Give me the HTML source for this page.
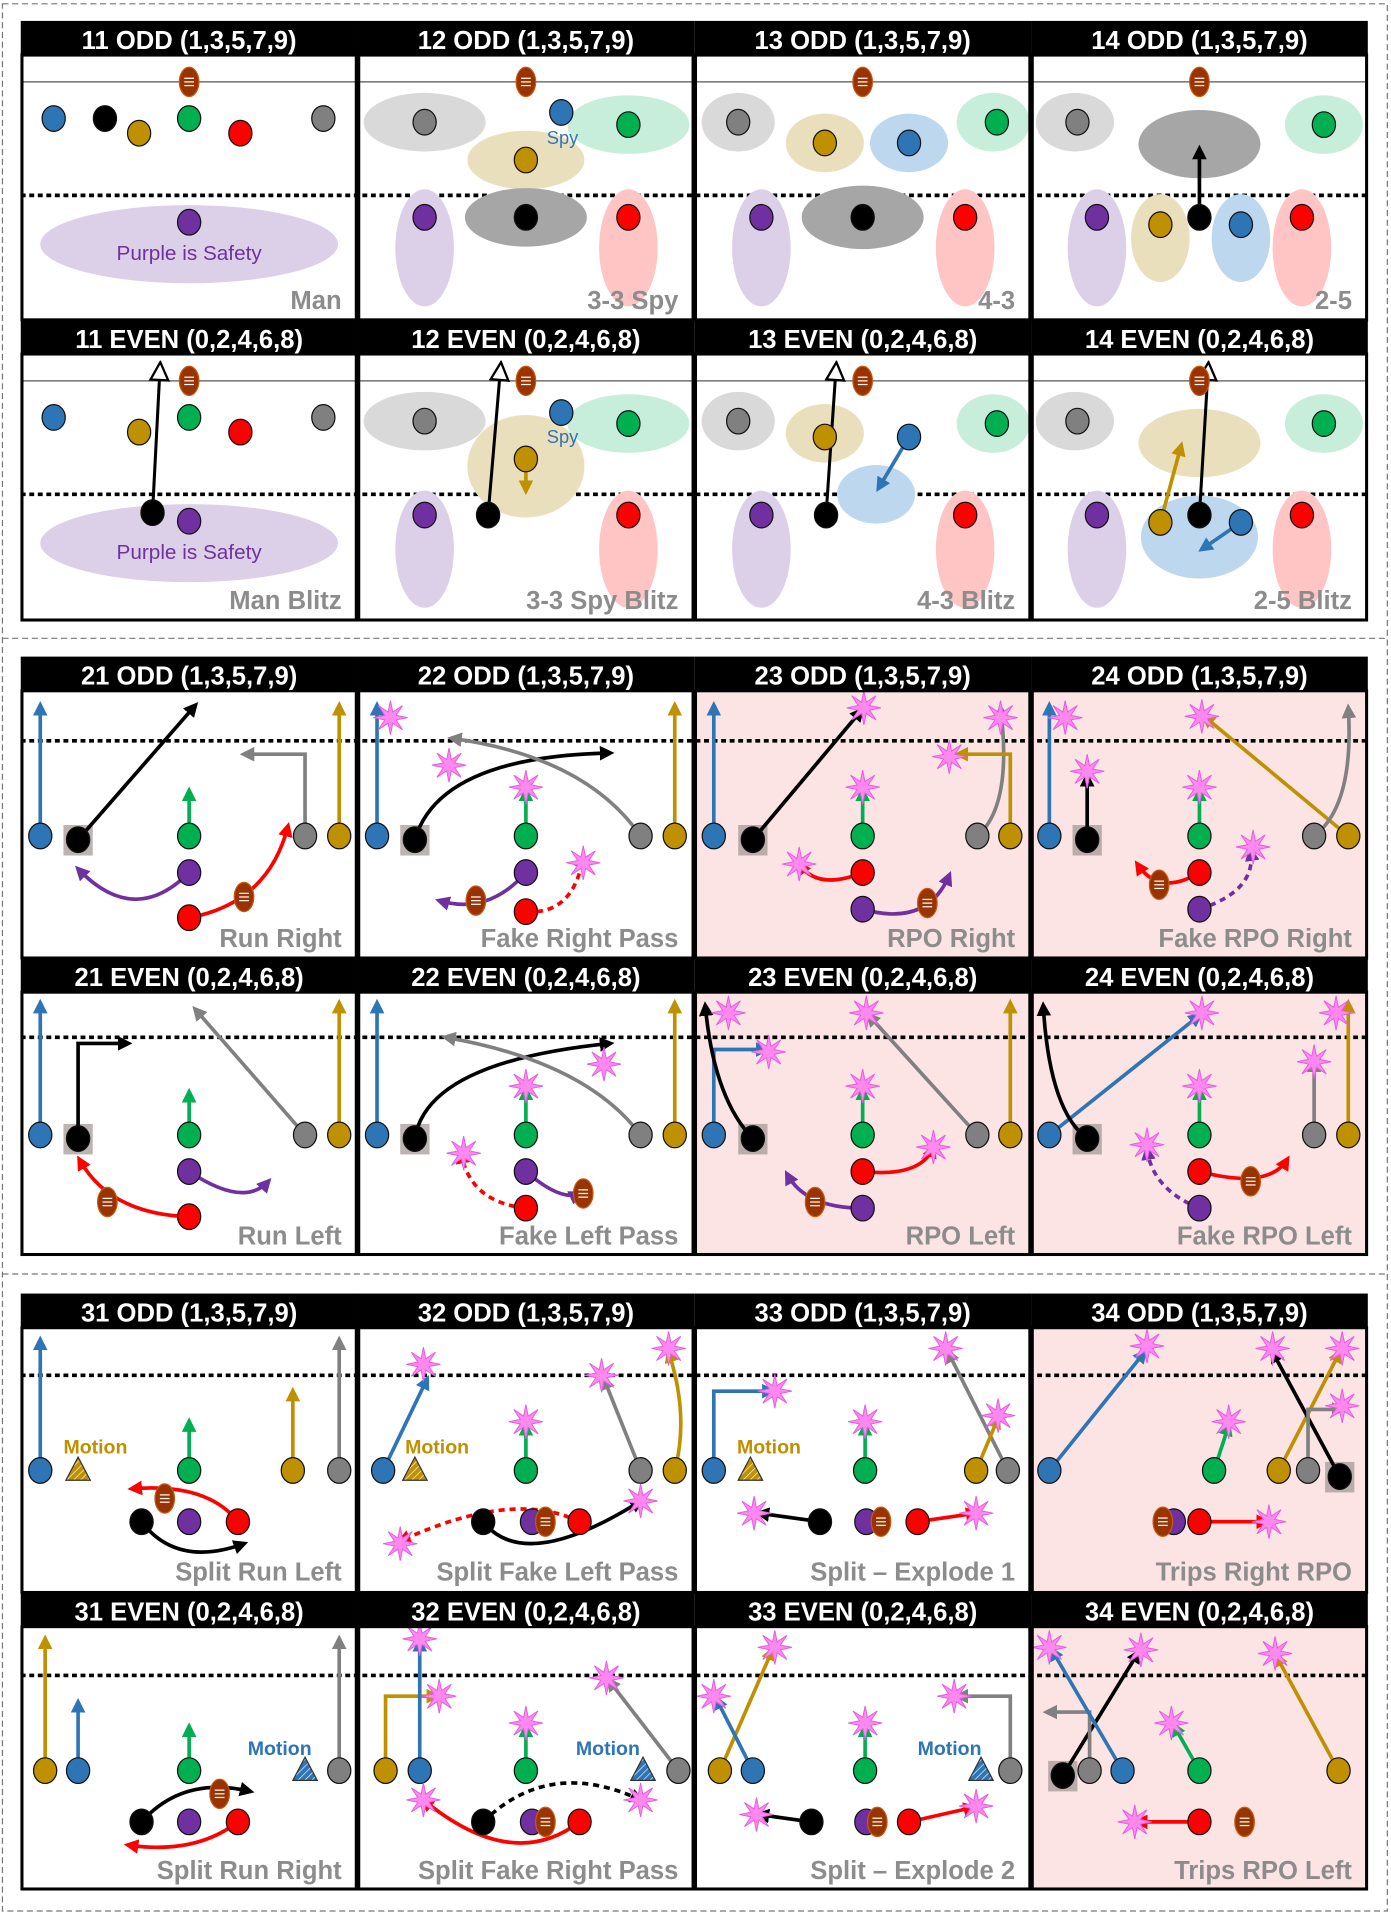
<!DOCTYPE html>
<html><head><meta charset="utf-8"><style>
html,body{margin:0;padding:0;background:#fff;width:1391px;height:1916px;overflow:hidden}
svg{display:block}
.h{font-family:"Liberation Sans",sans-serif;font-weight:bold;font-size:21px;fill:#fff;text-anchor:middle}
.l{font-family:"Liberation Sans",sans-serif;font-weight:bold;font-size:21px;fill:#8c8c8c;text-anchor:end}
.m{font-family:"Liberation Sans",sans-serif;font-weight:bold;font-size:16px}
</style></head><body>
<svg id="s" width="1391" height="1916" viewBox="0 0 1140 1570" xmlns="http://www.w3.org/2000/svg">
<defs>
<pattern id="hat" width="4" height="4" patternUnits="userSpaceOnUse" patternTransform="rotate(45)"><rect width="4" height="4" fill="#bf9000"/><line x1="0" y1="0" x2="0" y2="4" stroke="#fff" stroke-width="1"/></pattern>
<pattern id="hatb" width="4" height="4" patternUnits="userSpaceOnUse" patternTransform="rotate(45)"><rect width="4" height="4" fill="#2e75b6"/><line x1="0" y1="0" x2="0" y2="4" stroke="#fff" stroke-width="1"/></pattern>
</defs>
<rect x="2" y="3" width="1135" height="1563" fill="none" stroke="#777" stroke-dasharray="5,3"/>
<line x1="2" y1="523" x2="1137" y2="523" stroke="#777" stroke-dasharray="5,3"/>
<line x1="2" y1="1044" x2="1137" y2="1044" stroke="#777" stroke-dasharray="5,3"/>
<g id="bg"></g><g id="g"></g><g id="fr"></g>
<g>
<text class="h" x="155" y="40">11 ODD (1,3,5,7,9)</text>
<text class="h" x="431" y="40">12 ODD (1,3,5,7,9)</text>
<text class="h" x="707" y="40">13 ODD (1,3,5,7,9)</text>
<text class="h" x="983" y="40">14 ODD (1,3,5,7,9)</text>
<text class="h" x="155" y="285">11 EVEN (0,2,4,6,8)</text>
<text class="h" x="431" y="285">12 EVEN (0,2,4,6,8)</text>
<text class="h" x="707" y="285">13 EVEN (0,2,4,6,8)</text>
<text class="h" x="983" y="285">14 EVEN (0,2,4,6,8)</text>
<text class="h" x="155" y="561">21 ODD (1,3,5,7,9)</text>
<text class="h" x="431" y="561">22 ODD (1,3,5,7,9)</text>
<text class="h" x="707" y="561">23 ODD (1,3,5,7,9)</text>
<text class="h" x="983" y="561">24 ODD (1,3,5,7,9)</text>
<text class="h" x="155" y="808">21 EVEN (0,2,4,6,8)</text>
<text class="h" x="431" y="808">22 EVEN (0,2,4,6,8)</text>
<text class="h" x="707" y="808">23 EVEN (0,2,4,6,8)</text>
<text class="h" x="983" y="808">24 EVEN (0,2,4,6,8)</text>
<text class="h" x="155" y="1083">31 ODD (1,3,5,7,9)</text>
<text class="h" x="431" y="1083">32 ODD (1,3,5,7,9)</text>
<text class="h" x="707" y="1083">33 ODD (1,3,5,7,9)</text>
<text class="h" x="983" y="1083">34 ODD (1,3,5,7,9)</text>
<text class="h" x="155" y="1328">31 EVEN (0,2,4,6,8)</text>
<text class="h" x="431" y="1328">32 EVEN (0,2,4,6,8)</text>
<text class="h" x="707" y="1328">33 EVEN (0,2,4,6,8)</text>
<text class="h" x="983" y="1328">34 EVEN (0,2,4,6,8)</text>
<text class="l" x="280" y="253">Man</text>
<text class="l" x="556" y="253">3-3 Spy</text>
<text class="l" x="832" y="253">4-3</text>
<text class="l" x="1108" y="253">2-5</text>
<text class="l" x="280" y="499">Man Blitz</text>
<text class="l" x="556" y="499">3-3 Spy Blitz</text>
<text class="l" x="832" y="499">4-3 Blitz</text>
<text class="l" x="1108" y="499">2-5 Blitz</text>
<text class="l" x="280" y="776">Run Right</text>
<text class="l" x="556" y="776">Fake Right Pass</text>
<text class="l" x="832" y="776">RPO Right</text>
<text class="l" x="1108" y="776">Fake RPO Right</text>
<text class="l" x="280" y="1020">Run Left</text>
<text class="l" x="556" y="1020">Fake Left Pass</text>
<text class="l" x="832" y="1020">RPO Left</text>
<text class="l" x="1108" y="1020">Fake RPO Left</text>
<text class="l" x="280" y="1295">Split Run Left</text>
<text class="l" x="556" y="1295">Split Fake Left Pass</text>
<text class="l" x="832" y="1295">Split – Explode 1</text>
<text class="l" x="1108" y="1295">Trips Right RPO</text>
<text class="l" x="280" y="1540">Split Run Right</text>
<text class="l" x="556" y="1540">Split Fake Right Pass</text>
<text class="l" x="832" y="1540">Split – Explode 2</text>
<text class="l" x="1108" y="1540">Trips RPO Left</text>
<text class="m" x="155" y="213" text-anchor="middle" fill="#7030a0" style="font-weight:normal;font-size:17px">Purple is Safety</text>
<text class="m" x="155" y="458" text-anchor="middle" fill="#7030a0" style="font-weight:normal;font-size:17px">Purple is Safety</text>
<text class="m" x="461" y="118" text-anchor="middle" fill="#2e75b6" style="font-weight:normal;font-size:15px">Spy</text>
<text class="m" x="461" y="363" text-anchor="middle" fill="#2e75b6" style="font-weight:normal;font-size:15px">Spy</text>
<text class="m" x="52" y="1191" fill="#bf9000">Motion</text>
<text class="m" x="332" y="1191" fill="#bf9000">Motion</text>
<text class="m" x="604" y="1191" fill="#bf9000">Motion</text>
<text class="m" x="203" y="1438" fill="#2e75b6">Motion</text>
<text class="m" x="472" y="1438" fill="#2e75b6">Motion</text>
<text class="m" x="752" y="1438" fill="#2e75b6">Motion</text>
</g>
</svg>
<script>
var NS="http://www.w3.org/2000/svg",G=document.getElementById('g'),BG=document.getElementById('bg'),FR=document.getElementById('fr'),defs=document.querySelector('defs');
function E(p,t,a){var e=document.createElementNS(NS,t);for(var k in a)e.setAttribute(k,a[k]);p.appendChild(e);return e}
var C={b:'#2e75b6',k:'#000',y:'#bf9000',g:'#00b050',r:'#ff0000',a:'#808080',p:'#7030a0'};
var LE={a:'#d9d9d9',y:'#eadfbd',b:'#bdd7ee',g:'#c7eedb',p:'#dccfe8',r:'#ffc4c4',k:'#a6a6a6'};
for(var c in C){var m=E(defs,'marker',{id:'m'+c,viewBox:'0 0 10 10',refX:'7',refY:'5',markerWidth:'4',markerHeight:'4',orient:'auto',markerUnits:'strokeWidth'});E(m,'path',{d:'M0,0L10,5L0,10z',fill:C[c]});}
var mo=E(defs,'marker',{id:'mo',viewBox:'0 0 12 12',refX:'6',refY:'6',markerWidth:'7',markerHeight:'7',orient:'auto',markerUnits:'strokeWidth'});E(mo,'path',{d:'M1,1L11,6L1,11z',fill:'#fff',stroke:'#000','stroke-width':'1.3'});
var hy=[17,262,538,785,1060,1305],fb=[262,508,785,1028,1305,1548];
var pink={'2_2':1,'2_3':1,'3_2':1,'3_3':1,'5_3':1,'4_3':1};
for(var r=0;r<6;r++)for(var i=0;i<4;i++){var x=17+276*i;
 E(BG,'rect',{x:x,y:hy[r]+28,width:276,height:fb[r]-hy[r]-28,fill:pink[r+'_'+i]?'#fce4e4':'#fff'});
 E(FR,'rect',{x:x,y:hy[r],width:276,height:28,fill:'#000'});
 E(FR,'rect',{x:x+1,y:hy[r]+28,width:274,height:fb[r]-hy[r]-28,fill:'none',stroke:'#000','stroke-width':2.5});
}
[[67,160],[312,405],[0,607],[0,850],[0,1127],[0,1373]].forEach(function(v){
 if(v[0])E(BG,'line',{x1:17,x2:1121,y1:v[0],y2:v[0],stroke:'#555','stroke-width':1});
 E(BG,'line',{x1:17,x2:1121,y1:v[1],y2:v[1],stroke:'#000','stroke-width':3,'stroke-dasharray':'4,3'});});
function el(x,y,rx,ry,c){E(G,'ellipse',{cx:x,cy:y,rx:rx,ry:ry,fill:LE[c]})}
function d(x,y,c){E(G,'ellipse',{cx:x,cy:y,rx:9.5,ry:10.5,fill:C[c],stroke:'#111','stroke-width':1})}
function ball(x,y){E(G,'ellipse',{cx:x,cy:y,rx:8,ry:12,fill:'#993300',stroke:'#c55a11','stroke-width':1});for(var k=-3;k<=3;k+=3)E(G,'line',{x1:x-4,x2:x+4,y1:y+k,y2:y+k,stroke:'#fff','stroke-width':1})}
function a(p,c,ds,o){var at={d:p,fill:'none',stroke:C[c],'stroke-width':3,'marker-end':o?'url(#mo)':'url(#m'+c+')'};if(o)at['stroke-width']=2.5;if(ds)at['stroke-dasharray']='5,4';E(G,'path',at)}
function st(x,y){var p='';for(var k=0;k<16;k++){var R=k%2?5:14,t=k*Math.PI/8;p+=(k?'L':'M')+(x+R*Math.sin(t)).toFixed(1)+','+(y-R*Math.cos(t)).toFixed(1)}E(G,'path',{d:p+'z',fill:'#ff88ee',stroke:'#e35de0','stroke-width':.8})}
function sq(x,y){E(G,'rect',{x:x-12,y:y-12,width:24,height:25,fill:'#a59a9a',opacity:.75})}
function tri(x,y,f){E(G,'path',{d:'M'+x+','+(y-11)+'L'+(x+10)+','+(y+8)+'L'+(x-10)+','+(y+8)+'z',fill:f,stroke:'#333','stroke-width':1})}
ball(155,67);d(44,97,'b');d(86,97,'k');d(114,109,'y');d(155,97,'g');d(197,109,'r');d(265,97,'a');el(155,200,122,32,'p');d(155,182,'p');
el(348,100,50,24,'a');el(515,102,50,24,'g');el(431,131,48,24,'y');el(431,178,50,24,'k');el(348,203,24,48,'p');el(515,203,24,48,'r');
ball(431,67);d(348,100,'a');d(515,102,'g');d(460,92,'b');d(431,131,'y');d(431,178,'k');d(348,178,'p');d(515,178,'r');
el(605,100,30,24,'a');el(676,117,32,24,'y');el(745,117,32,24,'b');el(814,100,30,24,'g');el(707,178,50,26,'k');el(624,203,24,48,'p');el(791,203,24,48,'r');
ball(707,67);d(605,100,'a');d(676,117,'y');d(745,117,'b');d(817,100,'g');d(707,178,'k');d(624,178,'p');d(791,178,'r');
el(881,100,32,24,'a');el(1085,102,32,24,'g');el(983,118,50,28,'k');el(951,195,24,36,'y');el(1017,195,24,36,'b');el(899,203,24,48,'p');el(1067,203,24,48,'r');
ball(983,67);d(883,100,'a');d(1085,102,'g');a('M983,178L983,122','k');d(983,178,'k');d(951,184,'y');d(1017,184,'b');d(899,178,'p');d(1067,178,'r');
el(155,445,122,32,'p');a('M125,420L131,304','k',0,1);ball(155,312);d(44,342,'b');d(114,354,'y');d(155,342,'g');d(197,354,'r');d(265,342,'a');d(155,427,'p');d(125,420,'k');
el(348,345,50,24,'a');el(515,347,50,24,'g');el(431,382,48,42,'y');el(348,450,24,48,'p');el(515,450,24,48,'r');
a('M400,422L410,304','k',0,1);ball(431,312);d(348,345,'a');d(515,347,'g');d(460,338,'b');a('M431,376L431,402','y');d(431,376,'y');d(400,422,'k');d(348,422,'p');d(515,422,'r');
el(605,345,30,24,'a');el(676,355,32,24,'y');el(718,405,32,24,'b');el(814,347,30,24,'g');el(624,450,24,48,'p');el(791,450,24,48,'r');
a('M677,422L685,304','k',0,1);ball(707,312);d(605,345,'a');d(676,358,'y');a('M745,358L720,400','b');d(745,358,'b');d(817,347,'g');d(677,422,'k');d(624,422,'p');d(791,422,'r');
el(881,345,32,24,'a');el(1085,347,32,24,'g');el(983,363,50,28,'y');el(983,440,48,34,'b');el(899,450,24,48,'p');el(1067,450,24,48,'r');
a('M983,422L990,304','k',0,1);ball(983,312);d(883,345,'a');d(1085,347,'g');a('M951,428L968,365','y');a('M1017,428L985,450','b');d(983,422,'k');d(951,428,'y');d(1017,428,'b');d(899,422,'p');d(1067,422,'r');
a('M33,685L33,578','b');sq(64,688);a('M64,688L160,578','k');a('M155,685L155,648','g');a('M155,715Q110,760 64,712','p');a('M155,752Q220,740 236,677','r');a('M250,685L250,618L200,618','a');a('M278,685L278,578','y');
d(33,685,'b');d(64,688,'k');d(155,685,'g');d(155,715,'p');d(155,752,'r');d(250,685,'a');d(278,685,'y');ball(200,735);
a('M309,685L309,578','b');sq(340,688);a('M340,688Q360,620 500,617','k');a('M525,685Q480,620 370,605','a');a('M431,685L431,648','g');a('M553,685L553,578','y');a('M431,715Q400,750 360,738','p');a('M431,747Q470,750 478,702','r',1);
d(309,685,'b');d(340,688,'k');d(431,685,'g');d(525,685,'a');d(553,685,'y');d(431,715,'p');d(431,747,'r');ball(390,738);st(320,588);st(368,627);st(431,645);st(478,707);
a('M585,685L585,578','b');sq(617,688);a('M617,688L706,582','k');a('M707,685L707,648','g');a('M801,685Q830,660 820,580','a');a('M828,685L828,618L785,618','y');a('M707,715Q670,730 655,708','r');a('M707,745Q760,760 778,717','p');
d(585,685,'b');d(617,688,'k');d(707,685,'g');d(801,685,'a');d(828,685,'y');d(707,715,'r');d(707,745,'p');ball(760,740);st(708,580);st(707,645);st(820,588);st(778,620);st(655,708);
a('M860,685L860,578','b');sq(891,688);a('M891,688L891,636','k');a('M983,685L983,648','g');a('M1105,685L987,587','y');a('M1077,685Q1110,660 1105,580','a');a('M983,715Q950,735 932,708','r');a('M983,745Q1030,730 1025,697','p',1);
d(860,685,'b');d(891,688,'k');d(983,685,'g');d(1077,685,'a');d(1105,685,'y');d(983,715,'r');d(983,745,'p');ball(950,725);st(873,588);st(891,632);st(983,645);st(985,587);st(1027,694);
a('M33,930L33,822','b');sq(64,933);a('M64,933L64,855L105,855','k');a('M155,930L155,895','g');a('M250,930L160,827','a');a('M278,930L278,822','y');a('M155,960Q200,990 220,968','p');a('M155,997Q90,995 65,950','r');
d(33,930,'b');d(64,933,'k');d(155,930,'g');d(250,930,'a');d(278,930,'y');d(155,960,'p');d(155,997,'r');ball(88,985);
a('M309,930L309,822','b');sq(340,933);a('M340,933Q350,870 500,855','k');a('M525,930Q480,870 365,850','a');a('M431,930L431,893','g');a('M553,930L553,822','y');a('M431,990Q385,985 378,945','r',1);a('M431,960Q460,985 475,978','p');
d(309,930,'b');d(340,933,'k');d(431,930,'g');d(525,930,'a');d(553,930,'y');d(431,960,'p');d(431,990,'r');ball(478,978);st(495,872);st(431,890);st(380,945);
a('M585,930L585,860L628,860','b');sq(617,933);a('M617,933Q585,900 578,824','k');a('M801,930L712,832','a');a('M707,930L707,893','g');a('M828,930L828,822','y');a('M707,960Q755,965 765,940','r');a('M707,990Q660,990 645,962','p');
d(585,930,'b');d(617,933,'k');d(707,930,'g');d(801,930,'a');d(828,930,'y');d(707,960,'r');d(707,990,'p');ball(668,985);st(630,862);st(597,830);st(710,830);st(707,890);st(765,940);
a('M860,930L983,832','b');sq(891,933);a('M891,933Q860,910 855,824','k');a('M983,930L983,893','g');a('M1077,930L1077,870','a');a('M1105,930L1105,822','y');a('M983,990Q945,975 940,942','p',1);a('M983,960Q1040,975 1055,950','r');
d(860,930,'b');d(891,933,'k');d(983,930,'g');d(1077,930,'a');d(1105,930,'y');d(983,960,'r');d(983,990,'p');ball(1025,968);st(985,830);st(983,890);st(1077,870);st(1095,830);st(940,938);
a('M33,1205L33,1098','b');tri(64,1205,'url(#hat)');a('M155,1205L155,1165','g');a('M240,1205L240,1140','y');a('M278,1205L278,1098','a');
a('M116,1247Q145,1285 200,1265','k');a('M195,1247Q170,1215 108,1220','r');
d(33,1205,'b');d(155,1205,'g');d(240,1205,'y');d(278,1205,'a');d(116,1247,'k');d(155,1247,'p');d(195,1247,'r');ball(135,1228);
a('M314,1205L350,1130','b');tri(340,1205,'url(#hat)');a('M431,1205L431,1168','g');a('M525,1205L495,1130','a');a('M553,1205Q565,1160 548,1108','y');
a('M396,1247Q430,1290 525,1230','k');a('M475,1247Q420,1220 328,1263','r',1);
d(314,1205,'b');d(431,1205,'g');d(525,1205,'a');d(553,1205,'y');d(396,1247,'k');d(436,1247,'p');d(475,1247,'r');ball(447,1247);st(347,1118);st(431,1165);st(493,1127);st(548,1105);st(525,1230);st(328,1265);
a('M585,1205L585,1140L633,1140','b');tri(615,1205,'url(#hat)');a('M709,1205L709,1168','g');a('M826,1205L777,1108','a');a('M800,1205L818,1162','y');a('M672,1247L622,1240','k');a('M752,1247L800,1240','r');
d(585,1205,'b');d(709,1205,'g');d(826,1205,'a');d(800,1205,'y');d(672,1247,'k');d(710,1247,'p');d(752,1247,'r');ball(722,1247);st(635,1140);st(709,1165);st(775,1105);st(818,1160);st(618,1240);st(800,1240);
a('M860,1205L938,1108','b');a('M995,1205L1007,1168','g');a('M1048,1205L1098,1108','y');sq(1098,1210);a('M1098,1210L1043,1108','k');a('M1072,1205L1072,1155L1100,1155','a');a('M983,1247L1038,1247','r');
d(860,1205,'b');d(995,1205,'g');d(1048,1205,'y');d(1072,1205,'a');d(1098,1210,'k');d(962,1247,'p');d(983,1247,'r');ball(953,1247);st(940,1103);st(1007,1165);st(1100,1105);st(1043,1105);st(1100,1152);st(1040,1247);
a('M37,1451L37,1343','y');a('M64,1451L64,1395','b');a('M155,1451L155,1415','g');tri(250,1451,'url(#hatb)');a('M278,1451L278,1343','a');
a('M116,1493Q150,1455 205,1468','k');a('M195,1493Q160,1520 105,1512','r');
d(37,1451,'y');d(64,1451,'b');d(155,1451,'g');d(278,1451,'a');d(116,1493,'k');d(155,1493,'p');d(195,1493,'r');ball(180,1470);
a('M316,1451L316,1390L358,1390','y');a('M344,1451L344,1345','b');a('M431,1451L431,1415','g');tri(527,1451,'url(#hatb)');a('M556,1451L499,1377','a');
a('M475,1493Q420,1535 347,1475','r');a('M396,1493Q450,1440 525,1475','k',1);
d(316,1451,'y');d(344,1451,'b');d(431,1451,'g');d(556,1451,'a');d(396,1493,'k');d(436,1493,'p');d(475,1493,'r');ball(447,1493);st(360,1390);st(344,1343);st(431,1412);st(497,1375);st(347,1475);st(525,1475);
a('M590,1451L633,1352','y');a('M617,1451L587,1392','b');a('M709,1451L709,1415','g');tri(804,1451,'url(#hatb)');a('M828,1451L828,1390L785,1390','a');a('M665,1493L622,1487','k');a('M745,1493L798,1481','r');
d(590,1451,'y');d(617,1451,'b');d(709,1451,'g');d(828,1451,'a');d(665,1493,'k');d(710,1493,'p');d(745,1493,'r');ball(719,1493);st(635,1350);st(585,1390);st(709,1412);st(782,1390);st(620,1487);st(800,1480);
sq(871,1455);a('M871,1455L933,1354','k');a('M893,1451L893,1403L858,1403','a');a('M920,1451L862,1352','b');a('M983,1451L962,1414','g');a('M1097,1451L1046,1357','y');a('M983,1493L932,1493','r');
d(871,1455,'k');d(893,1451,'a');d(920,1451,'b');d(983,1451,'g');d(1097,1451,'y');d(983,1493,'r');ball(1020,1493);st(935,1352);st(860,1350);st(960,1412);st(1045,1355);st(930,1493);
</script>
</body></html>
